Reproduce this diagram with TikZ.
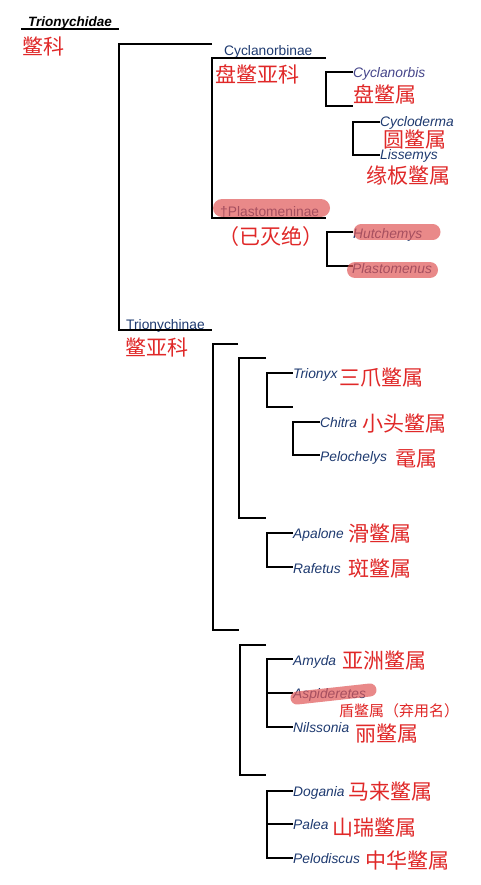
\documentclass[tikz,border=0pt]{standalone}
\usepackage{fontspec}
\setmainfont{Liberation Sans}
\newfontfamily\cjk{Noto Sans CJK SC}
\definecolor{tblue}{HTML}{1E3A70}
\definecolor{tpurple}{HTML}{45458A}
\definecolor{tred}{HTML}{E02828}
\definecolor{hl}{HTML}{E05858}
\tikzset{
 lat/.style={anchor=base west, inner sep=0pt, text=tblue, font=\fontsize{13.8}{14}\selectfont\itshape},
 sub/.style={anchor=base west, inner sep=0pt, text=tblue, font=\fontsize{13.8}{14}\selectfont},
 zh/.style={anchor=west, inner sep=0pt, text=tred, font=\cjk\fontsize{21}{22}\selectfont},
 zhs/.style={anchor=west, inner sep=0pt, text=tred, font=\cjk\fontsize{15}{16}\selectfont},
 br/.style={line width=1.2pt, black},
 hilite/.style={line width=16pt, hl, opacity=0.7, line cap=round},
}
\begin{document}
\begin{tikzpicture}[x=1pt,y=-1pt]
\useasboundingbox[fill=white] (0,0) rectangle (481,885);
% texts
\node[font=\fontsize{13.5}{14}\selectfont\bfseries\itshape, anchor=base west, inner sep=0pt] (fam) at (28,27) {Trionychidae};
\node[zh] (famzh) at (22,46) {鳖科};
\node[sub] (cyc) at (224,56) {Cyclanorbinae};
\node[zh] (cyczh) at (215,74) {盘鳖亚科};
\node[lat, text=tpurple] (cyb) at (353,78) {Cyclanorbis};
\node[zh] (cybzh) at (353,94) {盘鳖属};
\node[lat] (cyd) at (380,127) {Cycloderma};
\node[zh] (cydzh) at (383,140) {圆鳖属};
\node[lat] (lis) at (380,160) {Lissemys};
\node[zh] (liszh) at (366,176) {缘板鳖属};
\node[sub] (pla) at (220,217) {†Plastomeninae};
\node[zh] (plazh) at (218,237) {（已灭绝）};
\node[lat] (hut) at (353,238) {Hutchemys};
\node[lat] (plm) at (352,273) {Plastomenus};
\node[sub] (tri) at (126,329) {Trionychinae};
\node[zh] (trizh) at (125,347) {鳖亚科};
\node[lat] (trx) at (293,378) {Trionyx};
\node[zh] (trxzh) at (339,378) {三爪鳖属};
\node[lat] (chi) at (320,427) {Chitra};
\node[zh] (chizh) at (362,424) {小头鳖属};
\node[lat] (pel) at (320,461) {Pelochelys};
\node[zh] (pelzh) at (395,459) {鼋属};
\node[lat] (apa) at (293,538) {Apalone};
\node[zh] (apazh) at (348,534) {滑鳖属};
\node[lat] (raf) at (293,573) {Rafetus};
\node[zh] (rafzh) at (348,569) {斑鳖属};
\node[lat] (amy) at (293,665) {Amyda};
\node[zh] (amyzh) at (342,661) {亚洲鳖属};
\node[lat] (asp) at (293,698) {Aspideretes};
\node[zhs] (aspzh) at (339,711) {盾鳖属（弃用名）};
\node[lat] (nil) at (293,732) {Nilssonia};
\node[zh] (nilzh) at (355,734) {丽鳖属};
\node[lat] (dog) at (293,796) {Dogania};
\node[zh] (dogzh) at (348,792) {马来鳖属};
\node[lat] (pal) at (293,829) {Palea};
\node[zh] (palzh) at (332,828) {山瑞鳖属};
\node[lat] (pds) at (293,863) {Pelodiscus};
\node[zh] (pdszh) at (365,860) {中华鳖属};
% tree lines
\draw[br] (21,29) -- (119,29);
\draw[br] (212,44) -- (119,44) -- (119,330) -- (212,330);
\draw[br] (326,58) -- (212,58) -- (212,218) -- (326,218);
\draw[br] (353,72) -- (326,72) -- (326,106) -- (353,106);
\draw[br] (380,122) -- (353,122) -- (353,155) -- (380,155);
\draw[br] (353,232) -- (327,232) -- (327,266) -- (353,266);
\draw[br] (238,344) -- (213,344) -- (213,630) -- (239,630);
\draw[br] (266,358) -- (239,358) -- (239,518) -- (266,518);
\draw[br] (293,373) -- (267,373) -- (267,407) -- (293,407);
\draw[br] (320,422) -- (293,422) -- (293,455) -- (320,455);
\draw[br] (293,533) -- (267,533) -- (267,567) -- (293,567);
\draw[br] (266,645) -- (240,645) -- (240,775) -- (266,775);
\draw[br] (293,659) -- (267,659) -- (267,727) -- (293,727);
\draw[br] (267,693) -- (293,693);
\draw[br] (293,791) -- (267,791) -- (267,858) -- (293,858);
\draw[br] (267,824) -- (293,824);
% highlighter strokes
\draw[hilite, line width=18pt] (222,208) -- (321,208);
\draw[hilite, line width=15pt] (361,232) -- (433,232);
\draw[hilite] (355,270) -- (430,270);
\draw[hilite, line width=13pt] (297,698) -- (370,690);
\end{tikzpicture}
\end{document}
